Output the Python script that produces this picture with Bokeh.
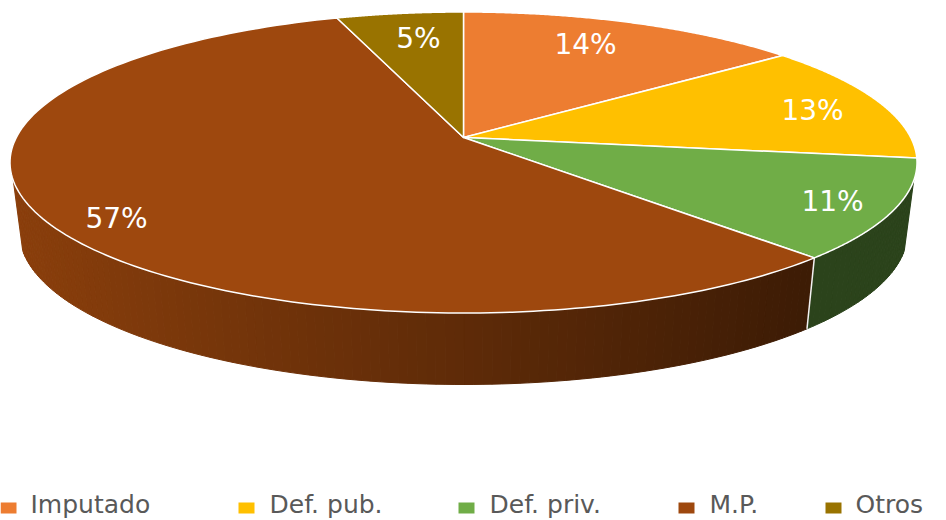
import numpy as np
from bokeh.plotting import figure
from bokeh.models import ColumnDataSource, Range1d
from bokeh.core.properties import value
from bokeh.embed import file_html
from bokeh.resources import INLINE

# data
categories = ["Imputado", "Def. pub.", "Def. priv.", "M.P.", "Otros"]
shares = [14.4, 12.8, 10.7, 56.8, 5.3]
labels = ["14%", "13%", "11%", "57%", "5%"]
colors = ["#ED7D31", "#FFC000", "#70AD47", "#9E480E", "#997300"]

# layout of the 3D pie on the page (px of the reference)
APEX = (463.0, 137.0)
TOP = (463.0, 162.0, 453.5, 150.5)      # cx, cy, rx, ry of the upper rim
BOT = (463.0, 232.0, 444.0, 152.0)      # lower rim
K = 1 / 6
A = 145.8
B = 446.7
WALL_START = 96.9
label_xy = [(585, 44), (812, 110), (832, 201), (116, 218), (418, 38)]
legend_box_x = [0, 238, 458, 678, 825]
legend_text_x = [30, 269, 489, 709, 855]
LEG_Y0, LEG_Y1, LEG_TY = 502, 513, 504


def rim_angle(pct):
    """Perspective projection of a share of the circle to the angle on the rim."""
    t = np.radians(pct * 3.6)
    u, v = np.sin(t), np.cos(t)
    w = 1 + K * v
    x = APEX[0] + B * u / w
    y = APEX[1] - A * v / w
    return np.degrees(np.arctan2((x - TOP[0]) / TOP[2], -(y - TOP[1]) / TOP[3])) % 360


def rim(ell, deg):
    r = np.radians(deg)
    return ell[0] + ell[2] * np.sin(r), ell[1] - ell[3] * np.cos(r)


cum = np.cumsum([0] + shares)
starts = [rim_angle(c) for c in cum[:-1]]
ends = [rim_angle(c) for c in cum[1:]]
ends[-1] = 360.0

p = figure(width=946, height=520, output_backend="svg", toolbar_location=None,
           x_range=Range1d(0, 946), y_range=Range1d(520, 0),
           min_border=0, outline_line_color=None)
p.axis.visible = False
p.grid.visible = False
p.background_fill_color = "white"
p.border_fill_color = "white"

# side wall, in thin strips for the shading
wx, wy, wc = [], [], []
for col, a0, a1 in zip(colors, starts, ends):
    lo, hi = max(a0, WALL_START), min(a1, 360 - WALL_START)
    if hi <= lo:
        continue
    edges = np.linspace(lo, hi, max(2, int((hi - lo) / 1.2) + 1))
    base = np.array([int(col[i:i + 2], 16) for i in (1, 3, 5)])
    for d0, d1 in zip(edges[:-1], edges[1:]):
        t0, t1 = rim(TOP, d0), rim(TOP, d1)
        b0, b1 = rim(BOT, d0), rim(BOT, d1)
        xm = (t0[0] + t1[0]) / 2
        f = max(0.39, 0.87 - (xm - 22) * 0.48 / 783)
        rgb = (base * f).astype(int)
        wx.append([t0[0], t1[0], b1[0], b0[0]])
        wy.append([t0[1], t1[1], b1[1], b0[1]])
        wc.append("#%02x%02x%02x" % tuple(rgb))
p.patches("xs", "ys", source=ColumnDataSource(dict(xs=wx, ys=wy, c=wc)),
          fill_color="c", line_color="c", line_width=1)

# white seam between the visible wall segments
for a0 in starts:
    if WALL_START < a0 < 360 - WALL_START:
        t, b = rim(TOP, a0), rim(BOT, a0)
        p.line([t[0], b[0]], [t[1], b[1]], line_color="#f2f2f2", line_width=1.5)

# top faces
tx, ty = [], []
for a0, a1 in zip(starts, ends):
    d = np.linspace(a0, a1, 160)
    ex, ey = rim(TOP, d)
    tx.append([APEX[0]] + list(ex))
    ty.append([APEX[1]] + list(ey))
p.patches("xs", "ys", source=ColumnDataSource(dict(xs=tx, ys=ty, c=colors)),
          fill_color="c", line_color="white", line_width=1.5, line_join="round")

# data labels
p.text([q[0] for q in label_xy], [q[1] for q in label_xy], text=labels,
       text_color="white", text_font=value("DejaVu Sans"), text_font_size="28px",
       text_align="center", text_baseline="middle")

# legend
p.quad(left=legend_box_x, right=[x + 16 for x in legend_box_x],
       top=[LEG_Y0] * 5, bottom=[LEG_Y1] * 5, fill_color=colors, line_color=None)
p.text(legend_text_x, [LEG_TY] * 5, text=categories, text_color="#595959",
       text_font=value("DejaVu Sans"), text_font_size="25px",
       text_align="left", text_baseline="middle")

open("out.html", "w").write(file_html(p, INLINE))
